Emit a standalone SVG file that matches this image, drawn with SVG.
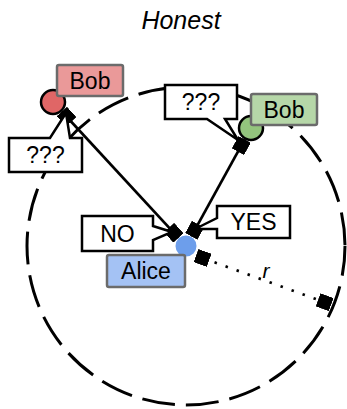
<svg xmlns="http://www.w3.org/2000/svg" width="347" height="409" viewBox="0 0 347 409">
  <style>
    .lbl { font-family: "Liberation Sans", Arial, sans-serif; font-size: 23px; text-anchor: middle; fill: #000; }
    .title { font-family: "Liberation Sans", Arial, sans-serif; font-size: 25px; font-style: italic; text-anchor: middle; fill: #000; }
    .bubble { fill: #fff; stroke: #000; stroke-width: 2.5; stroke-linejoin: miter; }
    .tag { stroke: #6b6b6b; stroke-width: 2.5; }
    .edge { fill: none; stroke: #000; stroke-width: 2.7; }
  </style>
  <defs>
    <marker id="sq" markerUnits="userSpaceOnUse" markerWidth="14" markerHeight="14" viewBox="0 0 11 11" refX="11" refY="5.5" orient="auto-start-reverse">
      <rect x="0" y="0" width="11" height="11" fill="#000"/>
    </marker>
  </defs>

  <!-- title -->
  <text class="title" x="181" y="29">Honest</text>

  <!-- range circle around Alice -->
  <circle cx="186" cy="246" r="159" fill="none" stroke="#000" stroke-width="3" stroke-dasharray="33 11" stroke-dashoffset="3.2"/>

  <!-- connectors -->
  <g id="edges">
    <line class="edge" x1="61.8" y1="111.5" x2="178.5" y2="237.9" marker-start="url(#sq)" marker-end="url(#sq)"/>
    <line class="edge" x1="244.7" y1="139.4" x2="191.3" y2="236.4" marker-start="url(#sq)" marker-end="url(#sq)"/>
    <line class="edge" x1="196" y1="255.6" x2="331.2" y2="304.6" stroke-width="2.5" stroke-dasharray="2.5 9.2" stroke-dashoffset="-8" marker-start="url(#sq)" marker-end="url(#sq)"/>
    <text x="266" y="278" font-family="'Liberation Sans', Arial, sans-serif" font-size="21" font-style="italic" text-anchor="middle">r</text>
  </g>

  <!-- speech bubbles -->
  <g id="bubble-red">
    <path class="bubble" d="M9,138 H50 L66,113 L70,138 H82 V172 H9 Z"/>
    <text class="lbl" x="45.5" y="163">???</text>
  </g>
  <g id="bubble-green">
    <path class="bubble" d="M165,85 H237 V119 H225 L238,140 L207,119 H165 Z"/>
    <text class="lbl" x="201" y="110">???</text>
  </g>
  <g id="bubble-no">
    <path class="bubble" d="M82,216 H153 V226 L172,232 L153,240 V251 H82 Z"/>
    <text class="lbl" x="117.5" y="242">NO</text>
  </g>
  <g id="bubble-yes">
    <path class="bubble" d="M217,206 H290 V238 H217 V229 L195,229 L217,218 Z"/>
    <text class="lbl" x="253.5" y="230">YES</text>
  </g>

  <!-- Bob (red) -->
  <g id="bob-red">
    <circle cx="53" cy="102" r="12" fill="#e06666" stroke="#000" stroke-width="2.5"/>
    <rect class="tag" x="57" y="65" width="66" height="31" rx="2" fill="#ea9999"/>
    <text class="lbl" x="90" y="88.5">Bob</text>
  </g>

  <!-- Bob (green) -->
  <g id="bob-green">
    <circle cx="251" cy="128" r="12" fill="#93c47d" stroke="#000" stroke-width="2.5"/>
    <rect class="tag" x="251" y="94" width="66" height="31" rx="2" fill="#b6d7a8"/>
    <text class="lbl" x="284" y="117.5">Bob</text>
  </g>

  <!-- Alice -->
  <g id="alice">
    <circle cx="186" cy="246" r="10.5" fill="#6d9eeb"/>
    <rect class="tag" x="107" y="255" width="78" height="32" rx="2" fill="#a4c2f4"/>
    <text class="lbl" x="146" y="279">Alice</text>
  </g>
</svg>
